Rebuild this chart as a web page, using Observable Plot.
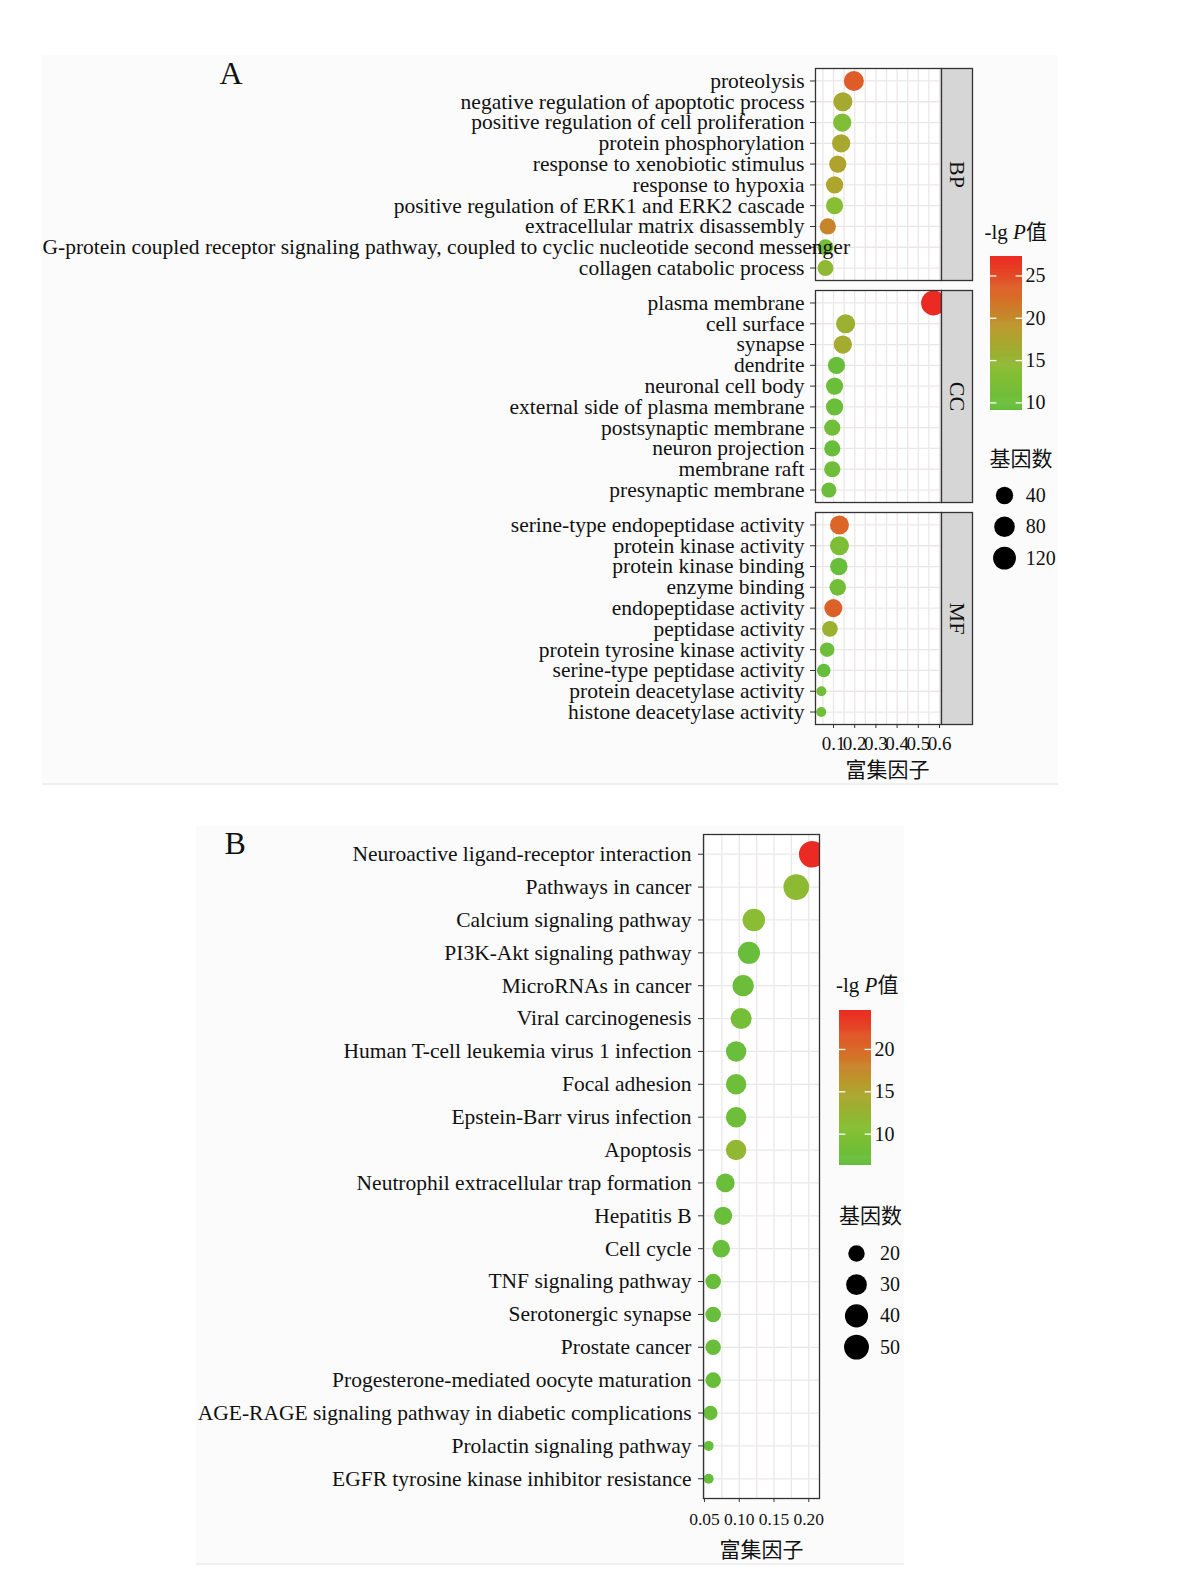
<!DOCTYPE html>
<html><head><meta charset="utf-8">
<script src="https://cdn.jsdelivr.net/npm/d3@7"></script>
<script src="https://cdn.jsdelivr.net/npm/@observablehq/plot@0.6"></script>
<style>
body{margin:0;background:#fff;}
#page{position:relative;width:1183px;height:1580px;overflow:hidden;font-family:"Liberation Serif","Noto Sans CJK SC",serif;color:#111;}
.bg{position:absolute;background:#fbfbfb;border-bottom:2px solid #f0f0f0;}
.txt{position:absolute;white-space:nowrap;line-height:1;}
</style></head><body><div id="page"></div>
<script>
// ---------------- DATA ----------------
const bpTerms = ["proteolysis","negative regulation of apoptotic process","positive regulation of cell proliferation","protein phosphorylation","response to xenobiotic stimulus","response to hypoxia","positive regulation of ERK1 and ERK2 cascade","extracellular matrix disassembly","G-protein coupled receptor signaling pathway, coupled to cyclic nucleotide second messenger","collagen catabolic process"];
const bpRich  = [0.196, 0.144, 0.141, 0.136, 0.120, 0.105, 0.105, 0.073, 0.062, 0.062];
const bpCount = [71, 60, 49, 49, 39, 39, 39, 31, 28, 29];
const bpLgP   = [23.7, 16.8, 12.7, 17.0, 17.7, 17.5, 13.6, 20.5, 11.0, 14.5];

const ccTerms = ["plasma membrane","cell surface","synapse","dendrite","neuronal cell body","external side of plasma membrane","postsynaptic membrane","neuron projection","membrane raft","presynaptic membrane"];
const ccRich  = [0.572, 0.157, 0.144, 0.114, 0.105, 0.105, 0.094, 0.094, 0.094, 0.078];
const ccCount = [166, 60, 49, 39, 39, 39, 31, 31, 31, 24];
const ccLgP   = [27.3, 15.8, 16.5, 9.6, 10.0, 10.0, 10.8, 9.6, 10.4, 10.2];

const mfTerms = ["serine-type endopeptidase activity","protein kinase activity","protein kinase binding","enzyme binding","endopeptidase activity","peptidase activity","protein tyrosine kinase activity","serine-type peptidase activity","protein deacetylase activity","histone deacetylase activity"];
const mfRich  = [0.128, 0.128, 0.125, 0.120, 0.099, 0.083, 0.070, 0.054, 0.043, 0.042];
const mfCount = [58, 58, 41, 34, 47, 27, 21, 17, 12, 12];
const mfLgP   = [23.0, 12.5, 9.6, 11.0, 23.3, 15.8, 10.3, 9.1, 11.0, 11.0];

const kTerms = ["Neuroactive ligand-receptor interaction","Pathways in cancer","Calcium signaling pathway","PI3K-Akt signaling pathway","MicroRNAs in cancer","Viral carcinogenesis","Human T-cell leukemia virus 1 infection","Focal adhesion","Epstein-Barr virus infection","Apoptosis","Neutrophil extracellular trap formation","Hepatitis B","Cell cycle","TNF signaling pathway","Serotonergic synapse","Prostate cancer","Progesterone-mediated oocyte maturation","AGE-RAGE signaling pathway in diabetic complications","Prolactin signaling pathway","EGFR tyrosine kinase inhibitor resistance"];
const kRich  = [0.205, 0.182, 0.121, 0.114, 0.1056, 0.1027, 0.0955, 0.0955, 0.0955, 0.0955, 0.080, 0.0768, 0.074, 0.0625, 0.0625, 0.0625, 0.0625, 0.0586, 0.056, 0.056];
const kCount = [62, 55, 37, 35, 32, 31, 29, 29, 29, 29, 24, 23, 22, 19, 19, 19, 19, 18, 17, 17];
const kLgP   = [24.6, 11.5, 11.2, 6.8, 7.3, 8.5, 7.0, 7.8, 7.8, 11.8, 7.2, 7.0, 7.0, 6.8, 6.8, 6.8, 6.8, 6.8, 6.5, 6.3];

const stripLabels = ["BP", "CC", "MF"];
const xTicksA = [0.1, 0.2, 0.3, 0.4, 0.5, 0.6];
const xGridA = [0.05, 0.1, 0.15, 0.2, 0.25, 0.3, 0.35, 0.4, 0.45, 0.5, 0.55, 0.6];
const xTicksB = [0.05, 0.10, 0.15, 0.20];
const xGridB = [0.05, 0.075, 0.1, 0.125, 0.15, 0.175, 0.2];
const colorTicksA = [10, 15, 20, 25];
const colorTicksB = [10, 15, 20];
const sizeLegendA = [40, 80, 120];
const sizeLegendB = [20, 30, 40, 50];
const gradientStops = ["#64BE3C", "#87BE34", "#B4A02D", "#DA6928", "#EC2A24"];
const axisTitle = "富集因子";
const sizeTitle = "基因数";

// ---------------- STYLE ----------------
const FONT = "'Liberation Serif','Noto Sans CJK SC',serif";
const INK = "#111111", LINE = "#333333", GRID = "#ebe7e7", STRIP = "#d6d6d6";
const LFS = 21.5; // label font size
const style = {fontFamily: FONT, fontSize: "21px", color: INK, background: "transparent", maxWidth: "none", overflow: "visible"};
const page = document.getElementById("page");

function rows(terms, rich, count, lgp) {
  return terms.map((t, i) => ({term: t, rich: rich[i], count: count[i], lgp: lgp[i]}));
}
const bp = rows(bpTerms, bpRich, bpCount, bpLgP);
const cc = rows(ccTerms, ccRich, ccCount, ccLgP);
const mf = rows(mfTerms, mfRich, mfCount, mfLgP);
const kegg = rows(kTerms, kRich, kCount, kLgP);
const allA = [...bp, ...cc, ...mf];

const grad = d3.piecewise(d3.interpolateRgb, gradientStops);
const colorA = {type: "linear", domain: d3.extent(allA, d => d.lgp), interpolate: grad};
const colorB = {type: "linear", domain: d3.extent(kegg, d => d.lgp), interpolate: grad};
const rA = {type: "linear", domain: d3.extent(allA, d => d.count), range: [0, 1], interpolate: t => 5 + 7.5 * Math.pow(Math.max(0, t), 0.42)};
const rB = {type: "linear", domain: d3.extent(kegg, d => d.count), range: [0, 1], interpolate: t => 5 + 8.3 * Math.pow(Math.max(0, t), 0.35)};

function place(node, left, top, width) {
  const d = document.createElement("div");
  d.style.cssText = `position:absolute;left:${left}px;top:${top}px;width:${width}px;`;
  d.appendChild(node);
  page.appendChild(d);
}
function addText(html, left, top, size) {
  const d = document.createElement("div");
  d.className = "txt";
  d.style.left = left + "px"; d.style.top = top + "px"; d.style.fontSize = size + "px";
  d.innerHTML = html;
  page.appendChild(d);
}
function bg(left, top, w, h) {
  const d = document.createElement("div");
  d.className = "bg";
  d.style.cssText += `left:${left}px;top:${top}px;width:${w}px;height:${h}px;`;
  page.appendChild(d);
}

bg(42, 55, 1016, 728);
bg(196, 826, 708, 737);
addText("A", 219.5, 56.5, 32);
addText("B", 224.5, 826.5, 32);

// ---------------- PANEL A ----------------
const PA = {left: 815, right: 941, strip: 31, h: 212, textLeft: 42};
const LONG = bpTerms[8];
function panelA(data, label, top, bottom) {
  const mt = 2, mb = bottom ? 64 : 2, W = PA.right + PA.strip + 4;
  const fig = Plot.plot({
    width: W, height: PA.h + mt + mb,
    marginLeft: PA.left, marginRight: W - PA.right, marginTop: mt, marginBottom: mb,
    style,
    x: bottom ? {domain: [0.015, 0.6094], label: null} : {domain: [0.015, 0.6094], label: null, axis: null},
    y: {type: "point", domain: data.map(d => d.term), padding: 0.6, round: false, label: null},
    r: rA, color: colorA,
    marks: [
      Plot.frame({fill: "white"}),
      Plot.gridX(xGridA, {stroke: GRID, strokeOpacity: 1, strokeWidth: 1.3}),
      Plot.gridY({stroke: GRID, strokeOpacity: 1, strokeWidth: 1.3}),
      Plot.dot(data, {x: "rich", y: "term", r: "count", fill: "lgp", clip: true}),
      Plot.frame({stroke: LINE, strokeWidth: 1.3}),
      Plot.frame({fill: STRIP, stroke: LINE, strokeWidth: 1.3, insetLeft: PA.right - PA.left, insetRight: -PA.strip}),
      Plot.text([label], {text: d => d, frameAnchor: "right", textAnchor: "middle", dx: PA.strip / 2, rotate: 90, fontSize: 22, fill: INK}),
      Plot.axisY({tickSize: 5, tickPadding: 6, fontSize: LFS, stroke: LINE, fill: INK, label: null, tickFormat: d => d === LONG ? "" : d}),
      Plot.text(data.filter(d => d.term === LONG), {y: "term", text: "term", frameAnchor: "left", textAnchor: "start", dx: PA.textLeft - PA.left, fontSize: LFS, fill: INK}),
      bottom ? Plot.axisX({ticks: xTicksA, tickSize: 4, tickPadding: 8, fontSize: 19, stroke: LINE, fill: INK, label: null, tickFormat: d => d.toFixed(1)}) : null,
      bottom ? Plot.text([axisTitle], {text: d => d, frameAnchor: "bottom", lineAnchor: "middle", dy: 46, dx: 9, fontSize: 21, fill: INK}) : null
    ]
  });
  place(fig, 0, top - mt, W);
}
panelA(bp, stripLabels[0], 68, false);
panelA(cc, stripLabels[1], 290, false);
panelA(mf, stripLabels[2], 512, true);

// ---------------- PANEL B ----------------
(function () {
  const left = 703, right = 819, top = 834, bottom = 1498;
  const mt = 10, mb = 70, W = 830;
  const fig = Plot.plot({
    width: W, height: bottom - top + mt + mb,
    marginLeft: left, marginRight: W - right, marginTop: mt, marginBottom: mb,
    style,
    x: {domain: [0.0486, 0.2154], label: null},
    y: {type: "point", domain: kegg.map(d => d.term), padding: 0.6, round: false, label: null},
    r: rB, color: colorB,
    marks: [
      Plot.frame({fill: "white"}),
      Plot.gridX(xGridB, {stroke: GRID, strokeOpacity: 1, strokeWidth: 1.3}),
      Plot.gridY({stroke: GRID, strokeOpacity: 1, strokeWidth: 1.3}),
      Plot.dot(kegg, {x: "rich", y: "term", r: "count", fill: "lgp", clip: true}),
      Plot.frame({stroke: LINE, strokeWidth: 1.3}),
      Plot.axisY({tickSize: 5, tickPadding: 7, fontSize: LFS, stroke: LINE, fill: INK, label: null}),
      Plot.axisX({ticks: xTicksB, tickSize: 4, tickPadding: 10, fontSize: 17.5, stroke: LINE, fill: INK, label: null, tickFormat: d => d.toFixed(2)}),
      Plot.text([axisTitle], {text: d => d, frameAnchor: "bottom", lineAnchor: "middle", dy: 52, fontSize: 21, fill: INK})
    ]
  });
  place(fig, 0, top - mt, W);
})();

// ---------------- LEGENDS ----------------
function colorBar(colorOpts, ticks, left, topY, bottomY) {
  const [lo, hi] = colorOpts.domain;
  const mt = 10, mb = 10, bw = 32, W = bw + 46;
  const n = 150, dv = (hi - lo) / n;
  const steps = d3.range(n).map(i => lo + dv * i);
  const fig = Plot.plot({
    width: W, height: bottomY - topY + mt + mb,
    marginLeft: 0, marginRight: W - bw, marginTop: mt, marginBottom: mb,
    style,
    y: {domain: [lo, hi], label: null},
    color: colorOpts,
    marks: [
      Plot.rect(steps, {y1: d => d, y2: d => Math.min(hi, d + dv * 1.6), fill: d => d + dv / 2}),
      Plot.tickY(ticks, {y: d => d, stroke: "white", strokeWidth: 1.3, insetRight: bw * 0.8}),
      Plot.tickY(ticks, {y: d => d, stroke: "white", strokeWidth: 1.3, insetLeft: bw * 0.8}),
      Plot.axisY({anchor: "right", ticks, tickSize: 0, tickPadding: 3, fontSize: 20, fill: INK, label: null})
    ]
  });
  place(fig, left, topY - mt, W);
}
function sizeLegend(rOpts, values, cx, cy0, step, labelX) {
  const mt = 16, mb = 16, fw = 24, W = fw + 56;
  const fig = Plot.plot({
    width: W, height: step * (values.length - 1) + mt + mb,
    marginLeft: 0, marginRight: W - fw, marginTop: mt, marginBottom: mb,
    style,
    y: {type: "point", domain: values, padding: 0, round: false, axis: null},
    r: rOpts,
    marks: [
      Plot.dot(values, {y: d => d, r: d => d, fill: "black"}),
      Plot.text(values, {y: d => d, text: d => String(d), frameAnchor: "right", textAnchor: "start", dx: labelX - cx - fw / 2, fontSize: 20, fill: INK})
    ]
  });
  place(fig, cx - fw / 2, cy0 - mt, W);
}

addText("-lg <i>P</i>值", 984.5, 221.5, 21);
colorBar(colorA, colorTicksA, 989.6, 256, 410);
addText(sizeTitle, 989.6, 449, 21);
sizeLegend(rA, sizeLegendA, 1003.7, 494.8, 31.3, 1025);

addText("-lg <i>P</i>值", 836, 974.5, 21);
colorBar(colorB, colorTicksB, 839, 1010, 1165);
addText(sizeTitle, 839, 1205.5, 21);
sizeLegend(rB, sizeLegendB, 855.5, 1252.6, 31.2, 879);
</script>
</body></html>
